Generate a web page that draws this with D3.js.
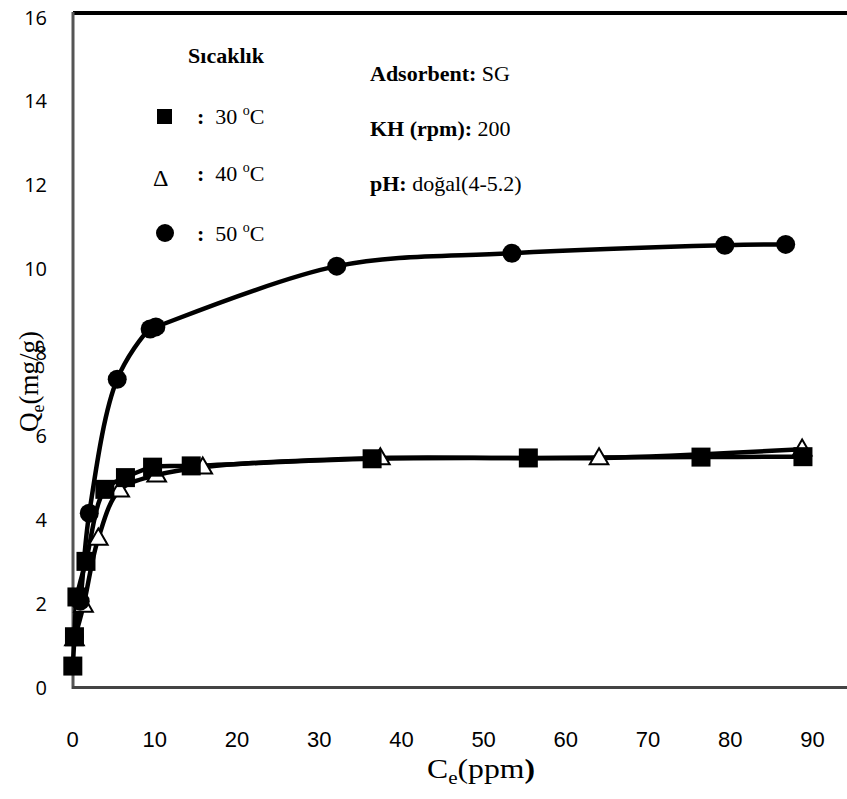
<!DOCTYPE html>
<html><head><meta charset="utf-8">
<script src="https://cdn.jsdelivr.net/npm/d3@7"></script>
<style>body{margin:0;background:#fff}svg{display:block}</style>
</head><body>
<script>
const xTicks = [0,10,20,30,40,50,60,70,80,90];
const yTicks = [0,2,4,6,8,10,12,14,16];
const s30x = [0.1,0.3,0.6,1.7,4.0,6.5,9.8,14.5,36.5,55.5,76.5,88.9];
const s30y = [0.5,1.2,2.15,3.0,4.72,5.0,5.25,5.28,5.45,5.47,5.49,5.5];
const s40x = [0.3,1.4,3.2,5.8,10.3,15.9,37.5,64.1,88.8];
const s40y = [1.15,1.95,3.55,4.7,5.06,5.25,5.47,5.47,5.68];
const s50x = [0.3,1.0,2.1,5.5,9.5,10.2,32.2,53.5,79.4,86.8];
const s50y = [1.2,2.05,4.15,7.35,8.55,8.6,10.05,10.36,10.55,10.57];

const W=847,H=799;
const serif="'Liberation Serif','Times New Roman',serif";
const svg=d3.select("body").append("svg").attr("width",W).attr("height",H);
const x=d3.scaleLinear().domain([0,90]).range([72,812]);
const y=d3.scaleLinear().domain([0,16]).range([687,17]);

// frame
svg.append("line").attr("x1",73).attr("x2",W).attr("y1",13).attr("y2",13).attr("stroke","#000").attr("stroke-width",4);
svg.append("line").attr("x1",73).attr("x2",73).attr("y1",12).attr("y2",689).attr("stroke","#555").attr("stroke-width",3);
svg.append("line").attr("x1",72).attr("x2",W).attr("y1",687.5).attr("y2",687.5).attr("stroke","#444").attr("stroke-width",3);

// axes (labels only)
const xa=svg.append("g").attr("transform","translate(0,731)").call(d3.axisBottom(x).tickValues(xTicks).tickSize(0).tickPadding(0));
xa.select(".domain").remove();
xa.selectAll("text").style("font-family","'Liberation Sans Narrow','Arial Narrow',sans-serif").style("font-size","22px").attr("fill","#000");
const ya=svg.append("g").attr("transform","translate(47,0)").call(d3.axisLeft(y).tickValues(yTicks).tickSize(0).tickPadding(0));
ya.select(".domain").remove();
ya.selectAll("text").style("font-family","'Open Sans',sans-serif").style("font-size","20px").attr("fill","#000").attr("dy","0.35em");

// axis titles
const xt=svg.append("text").attr("x",427).attr("y",778).style("font-family",serif).style("font-size","27px")
  .attr("textLength",108).attr("lengthAdjust","spacingAndGlyphs");
xt.append("tspan").text("C");
xt.append("tspan").text("e").style("font-size","18px").attr("dy",6);
xt.append("tspan").text("(ppm").attr("dy",-6);
xt.append("tspan").text(")").attr("font-weight","bold");
const yt=svg.append("text").attr("transform","translate(38,432) rotate(-90)").style("font-family",serif).style("font-size","27px");
yt.append("tspan").text("Q");
yt.append("tspan").text("e").style("font-size","18px").attr("dy",6);
yt.append("tspan").text("(mg/g)").attr("dy",-6);

// lines
const line=d3.line().x(d=>x(d[0])).y(d=>y(d[1])).curve(d3.curveCatmullRom.alpha(0.5));
function series(xs,ys){return xs.map((v,i)=>[v,ys[i]]);}
const d30=series(s30x,s30y),d40=series(s40x,s40y),d50=series(s50x,s50y);
[d40,d30,d50].forEach(d=>svg.append("path").attr("d",line(d)).attr("fill","none").attr("stroke","#000").attr("stroke-width",4.5));

// markers
const tri=d3.symbol().type(d3.symbolTriangle).size(150);
svg.append("g").selectAll("path").data(d40).join("path").attr("d",tri)
  .attr("transform",d=>`translate(${x(d[0])},${y(d[1])+1})`).attr("fill","#fff").attr("stroke","#000").attr("stroke-width",2);
svg.append("g").selectAll("rect").data(d30).join("rect")
  .attr("x",d=>x(d[0])-9.5).attr("y",d=>y(d[1])-9.5).attr("width",19).attr("height",19).attr("fill","#000");
svg.append("g").selectAll("circle").data(d50).join("circle")
  .attr("cx",d=>x(d[0])).attr("cy",d=>y(d[1])).attr("r",9.5).attr("fill","#000");

// legend
svg.append("text").attr("x",226).attr("y",63).attr("text-anchor","middle").style("font-family",serif).style("font-size","22px").attr("font-weight","bold").text("Sıcaklık");
svg.append("rect").attr("x",157).attr("y",109).attr("width",15).attr("height",15).attr("fill","#000");
svg.append("text").attr("x",153).attr("y",186).style("font-family",serif).style("font-size","24px").text("Δ");
svg.append("circle").attr("cx",165).attr("cy",233).attr("r",9).attr("fill","#000");
const labs=[["30",124],["40",181],["50",241]];
labs.forEach(([t,yy])=>{
  const tx=svg.append("text").attr("x",197).attr("y",yy).style("font-family",serif).style("font-size","22px").attr("xml:space","preserve");
  tx.append("tspan").text(":").attr("font-weight","bold");
  tx.append("tspan").text("  "+t+" ");
  tx.append("tspan").text("o").style("font-size","14px").attr("dy",-9);
  tx.append("tspan").text("C").attr("dy",9);
});
const info=[["Adsorbent:"," SG",81],["KH (rpm):"," 200",136],["pH:"," doğal(4-5.2)",191]];
info.forEach(([b,n,yy])=>{
  const tx=svg.append("text").attr("x",370).attr("y",yy).style("font-family",serif).style("font-size","22px").attr("xml:space","preserve");
  tx.append("tspan").text(b).attr("font-weight","bold");
  tx.append("tspan").text(n);
});
</script>
</body></html>
